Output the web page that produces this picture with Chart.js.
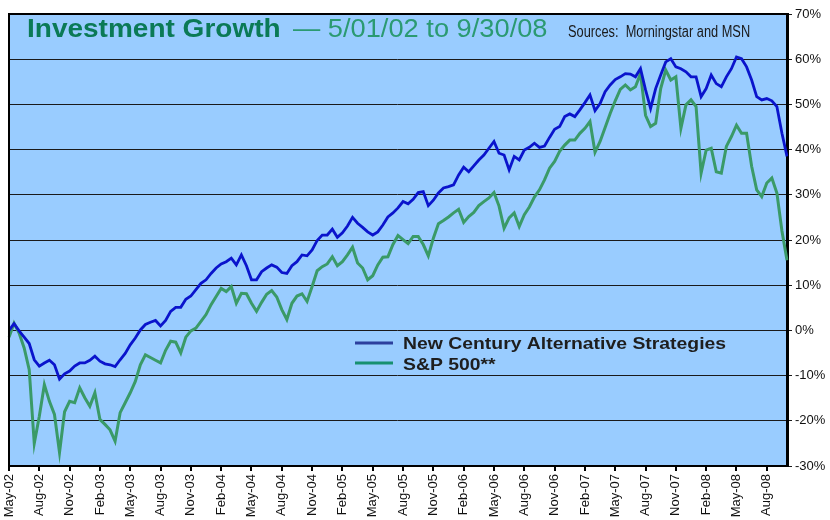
<!DOCTYPE html>
<html>
<head>
<meta charset="utf-8">
<script src="https://cdn.jsdelivr.net/npm/chart.js@4.4.1/dist/chart.umd.min.js"></script>
<style>
  html, body { margin: 0; padding: 0; background: #fff; }
  #wrap { width: 830px; height: 520px; position: relative; }
</style>
</head>
<body>
<div id="wrap"><canvas id="growthChart"></canvas></div>
<script>
// quarter labels on the x axis
const quarterLabels = [
  'May-02', 'Aug-02', 'Nov-02', 'Feb-03', 'May-03', 'Aug-03', 'Nov-03',
  'Feb-04', 'May-04', 'Aug-04', 'Nov-04', 'Feb-05', 'May-05', 'Aug-05',
  'Nov-05', 'Feb-06', 'May-06', 'Aug-06', 'Nov-06', 'Feb-07', 'May-07',
  'Aug-07', 'Nov-07', 'Feb-08', 'May-08', 'Aug-08'
];

const seriesNames = ['New Century Alternative Strategies', 'S&P 500**'];

// cumulative growth in %, sampled on the 1st and 15th of each month
const ncasValues = [
  0, 1.5, -0.1, -1.5, -2.9, -6.5, -7.9, -7.2, -6.6, -7.6,
  -10.8, -9.6, -9.0, -7.9, -7.2, -7.2, -6.6, -5.7, -6.8, -7.4,
  -7.6, -8.0, -6.5, -5.1, -3.2, -1.7, 0.1, 1.3, 1.8, 2.2,
  1.0, 2.2, 4.2, 5.1, 5.1, 6.9, 7.6, 9.0, 10.4, 11.2,
  12.6, 13.8, 14.7, 15.2, 16.0, 14.5, 16.7, 14.3, 11.2, 11.2,
  13.0, 13.8, 14.5, 14.0, 12.8, 12.6, 14.3, 15.2, 16.7, 16.5,
  17.8, 19.9, 21.1, 21.1, 22.4, 20.6, 21.6, 23.1, 25.0, 23.7,
  22.8, 21.8, 21.1, 21.8, 23.3, 25.1, 26.0, 27.1, 28.5, 28.0,
  29.0, 30.5, 30.7, 27.6, 28.8, 30.4, 31.5, 31.8, 32.2, 34.4,
  36.1, 35.1, 36.4, 37.7, 38.8, 40.3, 41.8, 39.2, 38.8, 35.5,
  38.5, 37.7, 39.9, 40.5, 41.4, 40.5, 40.8, 42.7, 44.5, 45.1,
  47.3, 47.9, 47.3, 48.8, 50.4, 52.1, 48.6, 50.2, 52.8, 54.3,
  55.5, 56.1, 56.8, 56.7, 56.1, 57.9, 53.2, 49.1, 53.5, 56.5,
  59.4, 60.1, 58.3, 57.9, 57.2, 56.1, 56.1, 51.7, 53.5, 56.5,
  54.6, 53.9, 56.1, 57.9, 60.5, 60.1, 58.3, 55.4, 51.7, 51.0,
  51.3, 50.8, 49.5, 43.6, 38.5
];

const sp500Values = [
  -1.5, 1.6, -0.6, -3.9, -8.7, -25.0, -19.0, -12.0, -15.7, -18.6,
  -27.0, -18.0, -15.7, -16.0, -12.7, -14.9, -16.8, -13.8, -19.7, -20.8,
  -22.0, -24.5, -18.2, -16.0, -13.8, -11.3, -7.6, -5.4, -6.0, -6.6,
  -7.2, -4.4, -2.4, -2.6, -5.0, -1.5, -0.1, 0.5, 2.0, 3.5,
  5.7, 7.5, 9.3, 8.6, 9.7, 6.0, 8.2, 8.1, 6.0, 4.2,
  6.2, 8.0, 8.8, 7.4, 4.6, 2.4, 6.0, 7.6, 8.1, 6.4,
  9.7, 13.2, 14.1, 14.7, 16.3, 14.3, 15.2, 16.7, 18.4, 14.9,
  13.8, 11.2, 12.1, 14.5, 16.2, 16.3, 19.0, 21.0, 20.1, 19.2,
  20.8, 20.8, 19.0, 16.5, 20.4, 23.6, 24.3, 25.1, 26.0, 26.8,
  23.9, 25.2, 26.1, 27.6, 28.5, 29.3, 30.5, 27.5, 22.6, 24.9,
  26.0, 23.0, 25.6, 27.3, 29.5, 31.1, 33.3, 35.9, 37.4, 39.6,
  41.0, 42.1, 42.1, 43.6, 44.7, 46.2, 39.4, 41.8, 44.9, 48.0,
  50.8, 53.3, 54.3, 53.2, 53.9, 56.8, 47.6, 45.1, 45.8, 53.5,
  57.6, 55.4, 56.1, 44.7, 49.9, 51.0, 49.5, 34.8, 39.9, 40.3,
  35.1, 34.8, 40.7, 42.9, 45.4, 43.6, 43.6, 36.3, 31.1, 29.6,
  32.6, 33.7, 30.4, 22.0, 15.5
];

// category dates, 5/01/02 .. 9/30/08
const dates = ncasValues.map((v, k) => {
  if (k === ncasValues.length - 1) return '9/30/08';
  const m = 4 + Math.floor(k / 2);
  const yy = 2002 + Math.floor(m / 12);
  return (m % 12 + 1) + '/' + (k % 2 ? '15' : '01') + '/' + String(yy).slice(2);
});

const fontFamily = '"Liberation Sans", Arial, Helvetica, sans-serif';
const blueColor = '#0a14cc';
const greenColor = '#3a9a68';

// text drawn with a horizontal stretch, the way the source picture has it
function stretchText(ctx, text, x, y, sx) {
  ctx.save();
  ctx.translate(x, y);
  ctx.scale(sx, 1);
  ctx.fillText(text, 0, 0);
  ctx.restore();
}

const framePlugin = {
  id: 'frame',
  beforeDraw(chart) {
    const { ctx, chartArea: a } = chart;
    ctx.save();
    ctx.fillStyle = '#99ccff';
    ctx.fillRect(a.left, a.top, a.right - a.left, a.bottom - a.top);
    ctx.restore();
  },
  afterDraw(chart) {
    const { ctx, chartArea: a } = chart;
    ctx.save();
    // left and top edges of the frame
    ctx.strokeStyle = '#000';
    ctx.lineWidth = 2;
    ctx.beginPath();
    ctx.moveTo(a.left, a.bottom);
    ctx.lineTo(a.left, a.top);
    ctx.lineTo(a.right, a.top);
    ctx.stroke();

    // title
    ctx.textBaseline = 'alphabetic';
    ctx.fillStyle = '#0b7a56';
    ctx.font = 'bold 25px ' + fontFamily;
    stretchText(ctx, 'Investment Growth', 27, 37, 1.12);
    ctx.fillStyle = '#2b9a72';
    ctx.font = '25px ' + fontFamily;
    stretchText(ctx, '\u2014 5/01/02 to 9/30/08', 293, 37, 1.09);
    ctx.fillStyle = '#1a1a1a';
    ctx.font = '16px ' + fontFamily;
    stretchText(ctx, 'Sources:  Morningstar and MSN', 568, 37, 0.8);

    // legend
    const legendColors = ['#2c3f9e', '#179070'];
    const rows = [343, 363];
    const baselines = [349, 370];
    ctx.font = 'bold 17px ' + fontFamily;
    chart.data.datasets.forEach((ds, i) => {
      ctx.strokeStyle = legendColors[i];
      ctx.lineWidth = 3;
      ctx.beginPath();
      ctx.moveTo(355, rows[i]);
      ctx.lineTo(393, rows[i]);
      ctx.stroke();
      ctx.fillStyle = '#1e1e1e';
      stretchText(ctx, ds.label, 403, baselines[i], 1.14);
    });
    ctx.restore();
  }
};

new Chart(document.getElementById('growthChart'), {
  type: 'line',
  data: {
    labels: dates,
    datasets: [
      {
        label: seriesNames[0],
        data: ncasValues,
        borderColor: blueColor,
        borderWidth: 2.8,
        pointRadius: 0,
        tension: 0
      },
      {
        label: seriesNames[1],
        data: sp500Values,
        borderColor: greenColor,
        borderWidth: 3,
        pointRadius: 0,
        tension: 0
      }
    ]
  },
  options: {
    responsive: true,
    maintainAspectRatio: false,
    animation: false,
    layout: { padding: { left: 9, top: 14, right: 0, bottom: 0 } },
    plugins: {
      legend: { display: false },
      tooltip: { enabled: false }
    },
    scales: {
      x: {
        offset: false,
        grid: {
          display: true,
          drawOnChartArea: false,
          drawTicks: true,
          tickLength: 5,
          color: '#000',
          lineWidth: 2
        },
        border: { display: true, color: '#000', width: 2 },
        ticks: {
          autoSkip: false,
          minRotation: 90,
          maxRotation: 90,
          padding: 3,
          color: '#111',
          font: { family: fontFamily, size: 13 },
          callback: (val, idx) => (idx % 6 === 0 ? quarterLabels[idx / 6] : null)
        },
        afterFit: (scale) => { scale.height = 54; }
      },
      y: {
        position: 'right',
        min: -30,
        max: 70,
        grid: {
          color: '#1a1a1a',
          lineWidth: 1,
          drawTicks: true,
          tickLength: 5
        },
        border: { display: true, color: '#000', width: 3 },
        ticks: {
          stepSize: 10,
          padding: 3,
          color: '#111',
          font: { family: fontFamily, size: 13 },
          callback: (v) => v + '%'
        },
        afterFit: (scale) => { scale.width = 43; }
      }
    }
  },
  plugins: [framePlugin]
});
</script>
</body>
</html>
